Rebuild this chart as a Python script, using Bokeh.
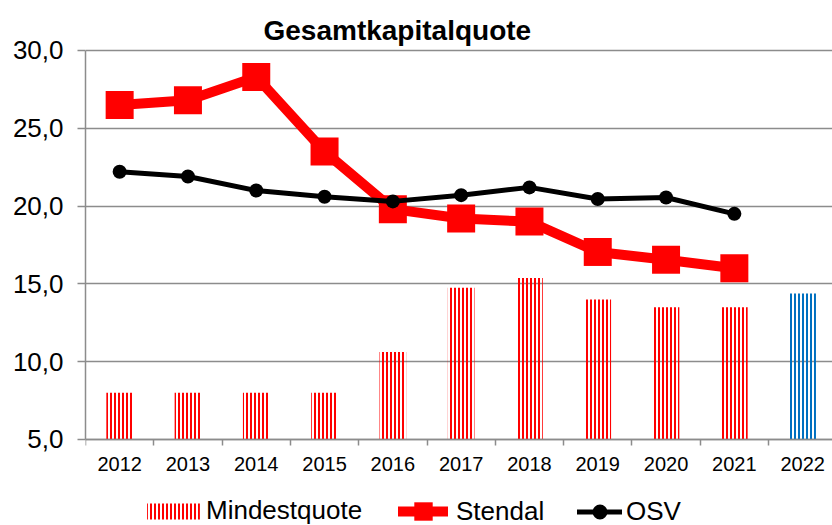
from bokeh.plotting import figure
from bokeh.models import Range1d, FixedTicker, Legend, LegendItem, ColumnDataSource, Label
from bokeh.embed import file_html
from bokeh.resources import INLINE

# ---- data ----
title_text = "Gesamtkapitalquote"
years = ["2012", "2013", "2014", "2015", "2016", "2017", "2018", "2019", "2020", "2021", "2022"]
mindestquote = [8.0, 8.0, 8.0, 8.0, 10.625, 14.75, 15.375, 14.0, 13.5, 13.5, 14.375]
stendal = [26.5, 26.8, 28.3, 23.5, 19.8, 19.2, 19.0, 17.05, 16.55, 16.0]
osv = [22.2, 21.9, 21.0, 20.6, 20.3, 20.7, 21.2, 20.45, 20.55, 19.5]
y_ticks = [5, 10, 15, 20, 25, 30]
y_tick_labels = ["5,0", "10,0", "15,0", "20,0", "25,0", "30,0"]

FONT = "Liberation Sans"
GRAY = "#8c8c8c"
RED = "#ff0000"
BLUE = "#0070c0"
Y_MIN, Y_MAX = 5, 30
Y_VIEW_START = -0.53   # room under the axis for the legend
Y_VIEW_END = 33.21     # room above the plot for the title

xs = list(range(len(years)))
bar_colors = [RED] * (len(years) - 1) + [BLUE]

p = figure(width=832, height=525, output_backend="svg", toolbar_location=None,
           x_range=Range1d(-0.5, 10.437), y_range=Range1d(Y_VIEW_START, Y_VIEW_END),
           min_border_left=85, min_border_right=0, min_border_top=0, min_border_bottom=0)
p.outline_line_color = None
p.background_fill_color = "white"
p.border_fill_color = "white"

# title (as a label in the top strip)
p.add_layout(Label(x=178, y=495, x_units="screen", y_units="screen", text=title_text,
                   text_font=FONT, text_font_style="bold", text_font_size="28px",
                   text_color="black", text_align="left", text_baseline="alphabetic"))

# grids
p.xgrid.grid_line_color = None
p.ygrid.ticker = FixedTicker(ticks=y_ticks)
p.ygrid.grid_line_color = GRAY
p.ygrid.grid_line_width = 1.5

# y axis
ya = p.yaxis[0]
ya.ticker = FixedTicker(ticks=y_ticks)
ya.bounds = (Y_MIN, Y_MAX)
ya.major_label_overrides = {t: l for t, l in zip(y_ticks, y_tick_labels)}
ya.major_label_text_font = FONT
ya.major_label_text_font_size = "26px"
ya.major_label_text_color = "black"
ya.axis_line_color = GRAY
ya.axis_line_width = 1.5
ya.major_tick_line_color = GRAY
ya.major_tick_line_width = 1.5
ya.major_tick_out = 8
ya.major_tick_in = 0
ya.minor_tick_line_color = None
ya.major_label_standoff = 14

# x axis (placed at y = 5)
xa = p.xaxis[0]
xa.fixed_location = Y_MIN
xa.ticker = FixedTicker(ticks=xs, minor_ticks=[i - 0.5 for i in range(len(years) + 1)])
xa.major_label_overrides = {i: y for i, y in zip(xs, years)}
xa.major_label_text_font = FONT
xa.major_label_text_font_size = "20px"
xa.major_label_text_color = "black"
xa.axis_line_color = GRAY
xa.axis_line_width = 1.5
xa.major_tick_line_color = None
xa.major_tick_out = 6
xa.major_tick_in = 0
xa.minor_tick_line_color = GRAY
xa.minor_tick_line_width = 1.5
xa.minor_tick_out = 6
xa.minor_tick_in = 0
xa.major_label_standoff = 12

# bars
bar_src = ColumnDataSource(dict(x=xs, top=mindestquote, color=bar_colors))
bars = p.vbar(x="x", top="top", bottom=Y_MIN, width=0.39, source=bar_src,
              fill_color=None, line_color=None,
              hatch_pattern="vertical_line", hatch_color="color",
              hatch_scale=4, hatch_weight=2)

# Stendal line
st_x = xs[:len(stendal)]
st_line = p.line(st_x, stendal, line_color=RED, line_width=10, line_join="round", line_cap="round")
st_pts = p.scatter(st_x, stendal, marker="square", size=28, fill_color=RED, line_color=None)

# OSV line
osv_x = xs[:len(osv)]
osv_line = p.line(osv_x, osv, line_color="black", line_width=5, line_join="round", line_cap="round")
osv_pts = p.scatter(osv_x, osv, marker="circle", size=14, fill_color="black", line_color=None)


def make_legend(label, renderers, loc, gw, gh, standoff):
    lg = Legend(items=[LegendItem(label=label, renderers=renderers)],
                orientation="horizontal", location=loc)
    lg.label_text_font = FONT
    lg.label_text_font_size = "26px"
    lg.label_text_color = "black"
    lg.glyph_width = gw
    lg.glyph_height = gh
    lg.label_standoff = standoff
    lg.padding = 0
    lg.margin = 0
    lg.spacing = 0
    lg.border_line_color = None
    lg.background_fill_color = None
    p.add_layout(lg, "center")


make_legend("Mindestquote", [bars], (55, -1), 66, 20, 0)
make_legend("Stendal", [st_line, st_pts], (313, -9), 50, 46, 8)
make_legend("OSV", [osv_line, osv_pts], (492, -5), 45, 37, 4)

open("out.html", "w").write(file_html(p, INLINE))
